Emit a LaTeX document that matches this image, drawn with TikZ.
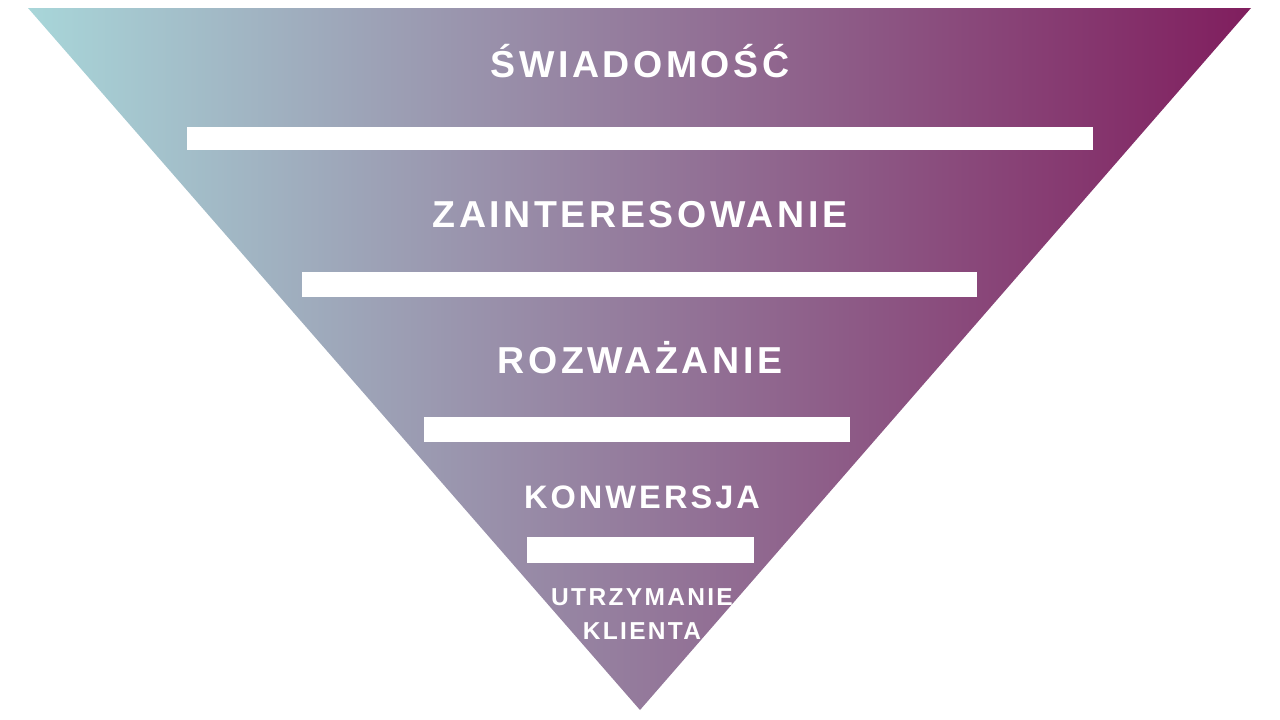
\documentclass[tikz,border=0pt]{standalone}
\usepackage{fontspec}
\setmainfont{Liberation Sans}
\newfontfamily\stagefont[LetterSpace=9.5]{Liberation Sans Bold}
\usetikzlibrary{positioning}

\definecolor{funnelteal}{HTML}{A8D6D9}
\definecolor{funnelplum}{HTML}{801E5E}

\tikzset{
  stage/.style={text=white, anchor=base, inner sep=0pt, font=\stagefont\fontsize{37.5}{40}\selectfont},
  smallstage/.style={stage, font=\stagefont\fontsize{32.5}{36}\selectfont},
  tinystage/.style={stage, font=\stagefont\fontsize{24.5}{32}\selectfont},
  bar/.style={fill=white, draw=none}
}

\begin{document}
\begin{tikzpicture}[x=1pt, y=-1pt]
\useasboundingbox (0,0) rectangle (1280,720);

\coordinate (TL) at (28,8);
\coordinate (TR) at (1251,8);
\coordinate (apex) at (640,710);
\shade [left color=funnelteal, right color=funnelplum] (TL) -- (TR) -- (apex) -- cycle;

% separators
\fill [bar] (187,127) rectangle (1093,150);
\fill [bar] (302,272) rectangle (977,297);
\fill [bar] (424,417) rectangle (850,442);
\fill [bar] (527,537) rectangle (754,563);

\node (aware) at (640,77) [stage] {ŚWIADOMOŚĆ};
\node (interest) at (640,227) [stage] {ZAINTERESOWANIE};
\node (consider) at (640,373) [stage] {ROZWAŻANIE};
\node (convert) at (642,508) [smallstage] {KONWERSJA};
\node (retain) at (642,605) [tinystage] {UTRZYMANIE};
\node (client) at (642,639) [tinystage] {KLIENTA};
\end{tikzpicture}
\end{document}
